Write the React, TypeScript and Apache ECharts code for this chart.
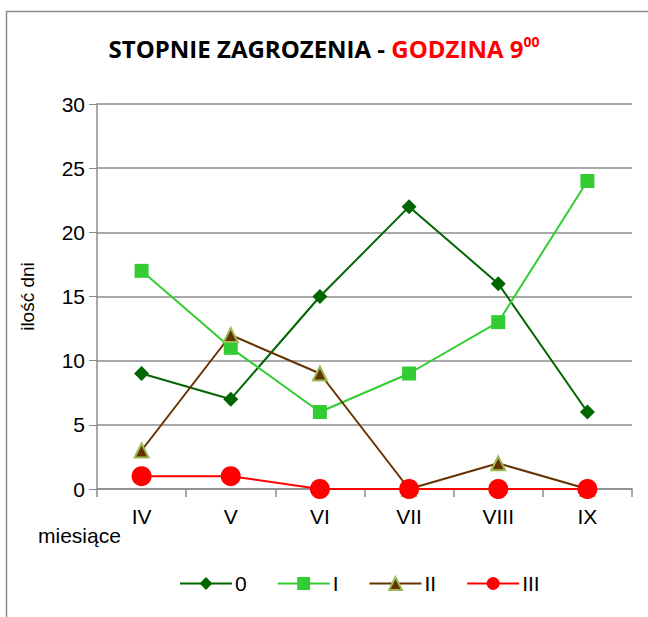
import React, { useEffect, useRef } from "react";
import * as echarts from "echarts";

const categories = ["IV", "V", "VI", "VII", "VIII", "IX"];
const seriesNames = ["0", "I", "II", "III"];
const s0 = [9, 7, 15, 22, 16, 6];
const s1 = [17, 11, 6, 9, 13, 24];
const s2 = [3, 12, 9, 0, 2, 0];
const s3 = [1, 1, 0, 0, 0, 0];
const yTicks = [0, 5, 10, 15, 20, 25, 30];

export default function App() {
  const ref = useRef<HTMLDivElement>(null);
  useEffect(() => {
    const chart = echarts.init(ref.current!, null, { renderer: "svg" });
    const font = "Liberation Sans, Arial, sans-serif";
    chart.setOption({
      animation: false,
      backgroundColor: "#fff",
      title: {
        left: "center",
        top: 29,
        text: "{a|STOPNIE ZAGROZENIA - }{b|GODZINA 9}{c|00}",
        textStyle: {
          rich: {
            a: { fontFamily: "Open Sans", fontWeight: "bold", fontSize: 24, color: "#000" },
            b: { fontFamily: "Open Sans", fontWeight: "bold", fontSize: 24, color: "#ff0000" },
            c: { fontFamily: "Open Sans", fontWeight: "bold", fontSize: 14, color: "#ff0000", padding: [0, 0, 15, 0] },
          },
        },
      },
      graphic: [
        {
          type: "rect",
          shape: { x: 6.5, y: 11.5, width: 700, height: 700 },
          style: { fill: "none", stroke: "#8c8c8c", lineWidth: 1.5 },
          silent: true,
        },
        {
          type: "text",
          x: 38,
          y: 525,
          style: { text: "miesiące", font: `21px ${font}`, fill: "#000" },
        },
      ],
      grid: { left: 97, right: 16, top: 104, bottom: 128 },
      legend: {
        bottom: 18,
        left: 174,
        itemWidth: 52,
        itemHeight: 16,
        itemGap: 30,
        textStyle: { fontFamily: font, fontSize: 21, color: "#000", padding: [0, 0, 0, -2] },
        data: seriesNames,
      },
      xAxis: {
        type: "category",
        data: categories,
        boundaryGap: true,
        axisLine: { lineStyle: { color: "#8c8c8c", width: 1.5 } },
        axisTick: { show: true, length: 8, lineStyle: { color: "#8c8c8c", width: 1.5 } },
        axisLabel: { fontFamily: font, fontSize: 21, color: "#000", margin: 17 },
      },
      yAxis: {
        type: "value",
        min: yTicks[0],
        max: yTicks[yTicks.length - 1],
        interval: 5,
        name: "ilość dni",
        nameLocation: "middle",
        nameGap: 60,
        nameTextStyle: { fontFamily: font, fontSize: 19, color: "#000" },
        axisLine: { show: true, lineStyle: { color: "#8c8c8c", width: 1.5 } },
        axisTick: { show: true, length: 8, inside: false, lineStyle: { color: "#8c8c8c" } },
        axisLabel: { fontFamily: font, fontSize: 21, color: "#000", margin: 12 },
        splitLine: { lineStyle: { color: "#8c8c8c", width: 1.5 } },
      },
      series: [
        {
          name: seriesNames[0],
          type: "line",
          data: s0,
          symbol: "diamond",
          symbolSize: 15,
          lineStyle: { color: "#006600", width: 2 },
          itemStyle: { color: "#006600" },
        },
        {
          name: seriesNames[1],
          type: "line",
          data: s1,
          symbol: "rect",
          symbolSize: 14,
          lineStyle: { color: "#33cc33", width: 2 },
          itemStyle: { color: "#33cc33" },
        },
        {
          name: seriesNames[2],
          type: "line",
          data: s2,
          symbol: "triangle",
          symbolSize: 14,
          lineStyle: { color: "#663300", width: 2 },
          itemStyle: { color: "#663300", borderColor: "#9bbb59", borderWidth: 2 },
        },
        {
          name: seriesNames[3],
          type: "line",
          data: s3,
          symbol: "circle",
          symbolSize: 20,
          lineStyle: { color: "#ff0000", width: 2 },
          itemStyle: { color: "#ff0000" },
        },
      ],
    });
    return () => chart.dispose();
  }, []);
  return <div ref={ref} style={{ width: 648, height: 617, position: "absolute", left: 0, top: 0 }} />;
}
